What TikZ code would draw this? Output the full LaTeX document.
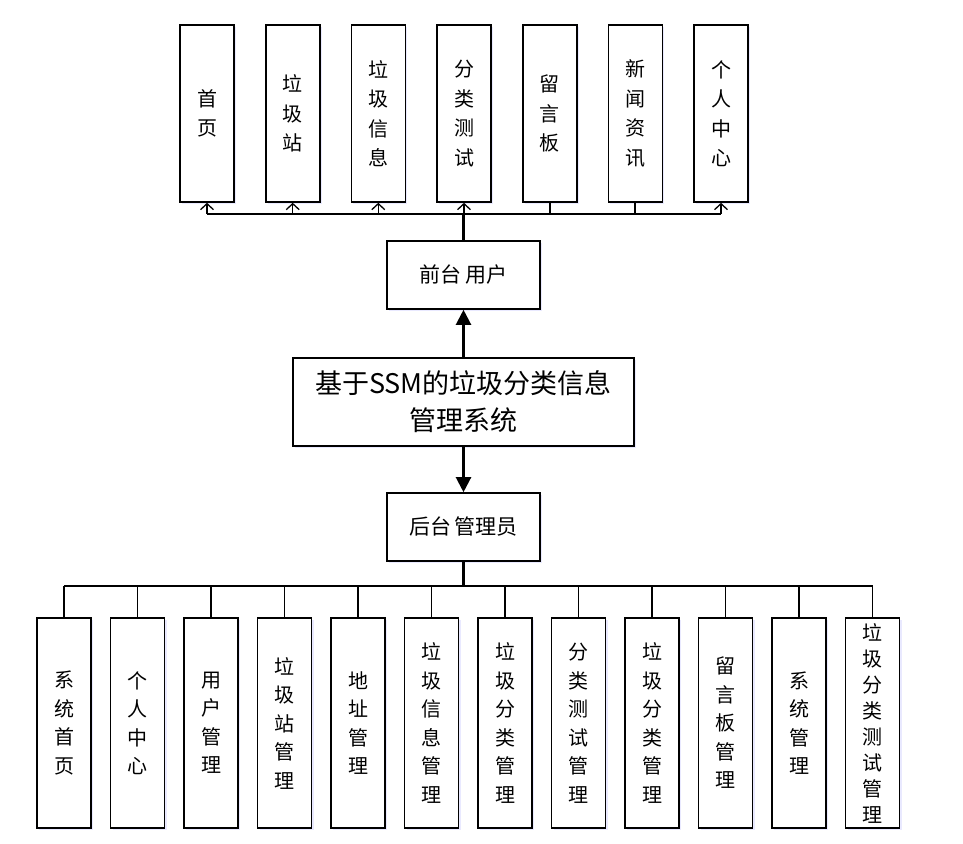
\documentclass[tikz,border=0pt]{standalone}
\usepackage{fontspec}
\setmainfont{Noto Sans CJK SC}
\usetikzlibrary{arrows.meta,shadows}
\begin{document}
\begin{tikzpicture}[x=1pt,y=-1pt,
  box/.style={draw=black,line width=1.6pt,fill=white,inner sep=0pt,align=center,
    drop shadow={fill=blue!25!white,opacity=0.35,shadow xshift=2pt,shadow yshift=-2pt}},
  tbox/.style={box,minimum width=54pt,minimum height=177pt,font=\fontsize{20}{29.5}\selectfont},
  bbox/.style={box,minimum width=54pt,minimum height=210pt,font=\fontsize{20}{28.5}\selectfont},
  mbox/.style={box,minimum width=153pt,minimum height=68pt,font=\fontsize{21}{26}\selectfont},
  bus/.style={line width=2.2pt},
  branch/.style={line width=1.7pt},
  openarrow/.style={line width=1.5pt,-{Straight Barb[length=6pt,width=13pt,line width=1.3pt]}},
  bigarrow/.style={line width=2.2pt,-{Triangle[length=15pt,width=15pt]}}
]
\useasboundingbox (0,0) rectangle (963,843);

% top row
\node[tbox] (t1) at (207,113.5) {首\\页};
\node[tbox] (t2) at (292.7,113.5) {垃\\圾\\站};
\node[tbox] (t3) at (378.3,113.5) {垃\\圾\\信\\息};
\node[tbox] (t4) at (464,113.5) {分\\类\\测\\试};
\node[tbox] (t5) at (549.7,113.5) {留\\言\\板};
\node[tbox] (t6) at (635.3,113.5) {新\\闻\\资\\讯};
\node[tbox] (t7) at (721,113.5) {个\\人\\中\\心};

% middle
\node[mbox] (front) at (463.5,275) {前台\,用户};
\node[box,minimum width=341pt,minimum height=88pt,font=\fontsize{27}{37}\selectfont] (main) at (463.5,402) {基于SSM的垃圾分类信息\\管理系统};
\node[mbox] (back) at (463.5,527) {后台\,管理员};

% bottom row
\node[bbox] (b1) at (64,723) {系\\统\\首\\页};
\node[bbox] (b2) at (137.5,723) {个\\人\\中\\心};
\node[bbox] (b3) at (211,723) {用\\户\\管\\理};
\node[bbox] (b4) at (284.5,723) {垃\\圾\\站\\管\\理};
\node[bbox] (b5) at (358,723) {地\\址\\管\\理};
\node[bbox] (b6) at (431.5,723) {垃\\圾\\信\\息\\管\\理};
\node[bbox] (b7) at (505,723) {垃\\圾\\分\\类\\管\\理};
\node[bbox] (b8) at (578.5,723) {分\\类\\测\\试\\管\\理};
\node[bbox] (b9) at (652,723) {垃\\圾\\分\\类\\管\\理};
\node[bbox] (b10) at (725.5,723) {留\\言\\板\\管\\理};
\node[bbox] (b11) at (799,723) {系\\统\\管\\理};
\node[bbox,font=\fontsize{20}{26}\selectfont] (b12) at (872.5,723) {垃\\圾\\分\\类\\测\\试\\管\\理};

% top connectors
\coordinate (tbus) at (463.5,214);
\draw[bus] (front.north) -- (front.north |- tbus);
\draw[bus] (t1.south |- tbus) -- (t7.south |- tbus);
\foreach \i in {1,2,3,4,7}{
  \draw[openarrow] (t\i.south |- tbus) -- (t\i.south);
}
\foreach \i in {5,6}{
  \draw[branch] (t\i.south |- tbus) -- (t\i.south);
}

% center arrows
\draw[bigarrow] (main.north) -- (front.south);
\draw[bigarrow] (main.south) -- (back.north);

% bottom connectors
\coordinate (bbus) at (463.5,586);
\draw[bus] (back.south) -- (back.south |- bbus);
\draw[bus] (b1.north |- bbus) -- (b12.north |- bbus);
\foreach \i in {1,...,12}{
  \draw[branch] (b\i.north |- bbus) -- (b\i.north);
}
\end{tikzpicture}
\end{document}
